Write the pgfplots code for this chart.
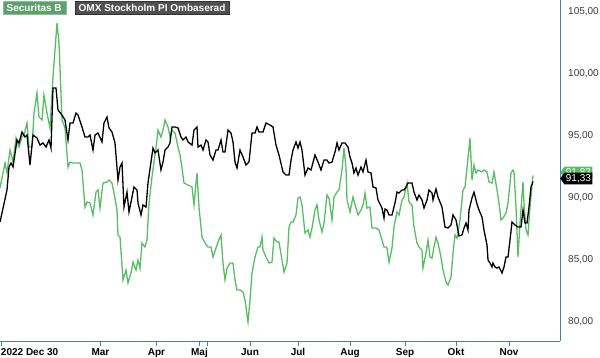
\documentclass[border=0pt]{standalone}
\usepackage{fontspec}
\setmainfont{Liberation Sans}
\usepackage{pgfplots}
\pgfplotsset{compat=1.18}
\usetikzlibrary{shapes.symbols,calc}
\definecolor{secgreen}{RGB}{88,190,102}
\definecolor{leggreen}{RGB}{92,160,108}
\definecolor{leggray}{RGB}{80,80,80}
\definecolor{axiscol}{RGB}{74,126,170}
\definecolor{ticklab}{RGB}{60,60,60}
\begin{document}
\begin{tikzpicture}
\begin{axis}[
  name=ax,
  scale only axis, width=560pt, height=341pt,
  xmin=0, xmax=336, ymin=78.47, ymax=105.97,
  clip=false,
  axis x line*=bottom, axis y line*=right,
  axis line style={draw=axiscol, line width=0.9pt},
  xtick={0.6,60.3,93.9,119.7,150,178.8,210,243,273.6,305.4},
  xticklabels={\makebox[0pt][l]{2022 Dec 30},Mar,Apr,Maj,Jun,Jul,Aug,Sep,Okt,Nov},
  xticklabel style={font=\bfseries\fontsize{10}{12}\selectfont, text=black, yshift=1pt},
  x tick style={draw=axiscol, line width=0.9pt},
  tick align=outside, major tick length=5pt,
  extra x ticks={124.2}, extra x tick labels={},
  extra x tick style={tick style={draw=red!80, line width=0.9pt}},
  ytick={80,85,90,95,100,105},
  yticklabels={{80,00},{85,00},{90,00},{95,00},{100,00},{105,00}},
  yticklabel style={font=\fontsize{10}{12}\selectfont, text=ticklab, anchor=west, inner xsep=0pt, xshift=3pt},
  y tick style={draw=none},
]
\addplot[secgreen, line width=1.3pt] coordinates {
(0,90.81)(1.8,92.02)(3,92.82)(4.2,92.02)(6,93.87)(7.8,92.90)(9.6,94.84)(11.4,94.11)(13.2,94.92)(14.4,95.08)
(16.2,96.05)(17.4,94.11)(19.2,94.11)(20.4,96.85)(22.2,98.47)(23.4,96.53)(25.2,96.29)(26.4,98.31)(28.2,96.85)(30,95.65)
(31.8,99.76)(34.2,104.11)(35.4,102.50)(37.2,96.29)(39,95.65)(40.8,92.50)(42,92.90)(43.8,92.82)(46.2,92.82)(48,92.82)
(49.2,92.26)(51,89.27)(52.2,89.68)(54,89.60)(55.8,88.63)(57.6,90.48)(58.8,90.65)(60,89.19)(61.8,91.21)(64.2,91.29)
(65.4,91.45)(67.2,91.21)(68.4,90.40)(70.2,89.03)(70.8,87.02)(72,86.85)(73.8,83.39)(75.6,84.19)(76.8,83.15)(78.6,83.95)
(79.8,84.84)(81.6,84.19)(82.8,85.00)(84,84.35)(85.2,86.37)(87,86.05)(88.2,86.61)(89.4,89.60)(91.2,91.69)(92.4,92.90)
(94.2,94.68)(94.8,95.48)(96.6,94.92)(97.8,95.48)(99,96.29)(100.8,95.73)(102,94.92)(103.2,95.48)(105,95.24)(106.8,94.11)
(108,93.47)(109.2,92.42)(110.4,91.21)(112.8,91.05)(115.2,90.89)(116.4,89.44)(118.2,92.02)(119.4,89.27)(121.2,86.85)(123,86.37)
(124.8,86.05)(126.6,86.05)(127.8,85.24)(129.6,85.97)(130.8,86.45)(132.6,87.02)(133.8,84.76)(135,83.39)(136.2,84.35)(138,84.76)
(139.8,84.76)(141,83.39)(142.2,82.58)(144,82.58)(145.8,82.42)(147,81.77)(148.8,80.00)(150,81.77)(151.2,83.95)(153,85.24)
(154.8,86.05)(156,86.05)(157.2,86.85)(157.8,85.81)(159.6,85.24)(161.4,84.76)(163.2,84.84)(164.4,86.77)(166.2,86.45)(167.4,86.45)
(169.2,85.00)(170.4,84.03)(172.2,84.76)(173.4,87.66)(174.6,88.06)(175.8,88.06)(177.6,88.63)(178.8,90.00)(180,90.08)(181.2,89.44)
(183,87.18)(184.8,87.42)(186,86.85)(187.2,87.58)(189,89.03)(190.2,89.44)(191.4,88.23)(193.2,87.26)(194.4,87.98)(196.2,90.24)
(197.4,90.00)(199.2,88.23)(200.4,90.08)(202.2,90.48)(203.4,90.65)(205.2,92.26)(206.4,94.03)(207.6,92.50)(208.2,89.84)(210,88.87)
(211.8,90.08)(213.6,89.19)(214.8,88.63)(216.6,89.03)(217.8,89.44)(219,90.40)(220.2,89.19)(222,89.27)(223.2,87.58)(225.6,87.58)
(227.4,87.42)(229.2,86.61)(230.4,86.05)(231.6,86.05)(232.2,85.97)(233.4,84.84)(235.2,85.97)(236.4,87.66)(238.2,88.87)(239.4,88.63)
(241.2,89.84)(242.4,90.08)(244.2,91.21)(245.4,89.68)(247.2,89.44)(248.4,87.66)(250.2,86.37)(251.4,86.05)(253.2,85.81)(253.8,84.35)
(255.6,85.56)(256.8,86.61)(258,85.24)(259.2,85.16)(260.4,86.05)(261.6,86.85)(262.8,86.37)(264.6,85.24)(265.8,84.19)(267.6,83.23)
(268.8,82.98)(270.6,83.63)(271.8,85.56)(273,87.02)(274.2,86.77)(276,88.23)(277.8,90.65)(279,90.89)(280.2,92.42)(282,94.84)
(283.2,91.45)(284.4,92.66)(285.6,92.02)(286.8,92.26)(289.2,92.10)(290.4,92.26)(292.2,92.10)(293.4,91.29)(295.2,91.21)(296.4,92.10)
(298.2,90.65)(299.4,89.60)(300.6,88.23)(301.8,88.39)(303.6,88.79)(304.8,89.60)(306.6,92.02)(307.8,92.26)(308.4,92.10)(309.6,89.27)
(310.8,85.24)(312,87.98)(313.8,91.29)(314.4,89.60)(315.6,87.42)(316.8,87.02)(318,89.27)(319.8,91.83)
};
\addplot[black, line width=1.3pt] coordinates {
(0,88.06)(4.2,90.65)(5.4,92.50)(6.6,92.82)(7.8,92.50)(10.2,94.68)(11.4,94.44)(13.2,95.32)(15,94.92)(16.2,95.08)
(18,92.66)(19.8,95.08)(22.2,94.84)(24,94.27)(25.8,94.44)(27.6,94.11)(29.4,94.68)(30.6,94.03)(31.8,98.87)(33.6,98.87)
(34.8,97.10)(37.2,96.69)(39,96.29)(40.8,94.68)(42,96.05)(43.8,96.05)(45.6,96.85)(46.8,96.69)(49.2,95.73)(51,94.92)
(52.8,94.92)(54,95.08)(55.8,93.87)(57,95.08)(58.8,95.24)(61.2,94.52)(62.4,96.05)(64.2,96.53)(65.4,95.65)(67.2,95.32)
(69,94.44)(70.8,91.45)(72,92.50)(73.2,92.82)(74.4,89.27)(76.2,90.48)(77.4,88.87)(79.2,90.08)(80.4,90.89)(82.2,90.65)
(82.8,89.60)(84.6,88.63)(85.8,89.44)(87.6,89.27)(88.8,91.21)(90.6,92.90)(91.8,94.03)(93,93.63)(94.8,93.87)(96.6,92.26)
(97.8,92.90)(99,93.87)(100.8,94.11)(102,94.44)(103.2,95.73)(105,95.73)(106.8,95.65)(108.6,94.92)(109.8,94.68)(111.6,94.92)
(112.8,94.52)(115.2,94.27)(116.4,95.48)(118.2,95.73)(118.8,94.11)(120.6,94.27)(121.8,93.87)(123.6,94.68)(124.8,94.52)(126,93.47)
(127.8,93.06)(129.6,93.87)(130.8,93.87)(132.6,94.68)(133.8,93.71)(135,93.71)(136.8,95.48)(138.6,95.24)(139.8,94.52)(141,92.90)
(142.2,92.42)(144,93.87)(145.8,93.31)(147.6,92.66)(149.4,92.90)(151.2,95.24)(153,95.24)(154.2,95.73)(155.4,95.32)(157.8,95.32)
(159.6,96.05)(162,95.89)(163.8,95.73)(165.6,94.27)(167.4,93.47)(169.8,92.10)(171.6,91.85)(173.4,91.85)(174.6,93.06)(175.8,93.87)
(177.6,94.52)(178.8,94.03)(180,94.52)(181.2,93.87)(183,91.85)(184.8,92.42)(186.6,92.26)(189,93.47)(190.8,92.90)(192.6,92.26)
(194.4,93.06)(196.2,93.06)(197.4,92.82)(199.2,92.90)(201,93.71)(202.2,94.44)(203.4,93.87)(205.2,94.44)(207,94.44)(208.8,94.11)
(210,93.31)(211.2,92.82)(212.4,92.02)(213.6,92.42)(214.8,91.85)(216.6,92.50)(217.8,92.10)(219.6,93.06)(220.8,92.10)(222.6,92.02)
(223.8,90.89)(225.6,90.81)(226.8,89.84)(229.2,89.19)(230.4,88.39)(231,89.11)(232.2,89.03)(233.4,88.63)(235.2,88.63)(237,89.60)
(238.2,90.48)(239.4,90.40)(241.2,90.65)(242.4,90.65)(243.6,90.89)(244.8,91.21)(247.2,91.21)(248.4,90.48)(250.2,89.84)(251.4,90.24)
(253.2,89.84)(254.4,89.19)(256.2,89.84)(257.4,90.65)(259.2,90.40)(259.8,89.84)(261.6,90.73)(262.8,90.08)(265.2,89.27)(267,87.66)
(268.8,87.58)(270.6,87.82)(271.8,88.63)(273.6,88.23)(275.4,86.94)(277.2,87.02)(278.4,87.58)(279.6,87.98)(280.8,87.42)(281.4,89.03)
(283.2,90.00)(284.4,90.48)(286.2,89.52)(287.4,89.03)(289.2,88.47)(290.4,87.42)(292.2,86.21)(292.8,85.00)(294,84.76)(295.2,84.44)
(295.8,84.76)(297,84.44)(298.2,84.35)(299.4,84.44)(301.2,83.95)(302.4,84.44)(303.6,85.24)(304.8,85.24)(306,86.61)(307.2,88.06)
(309,87.82)(310.8,87.66)(312.6,87.66)(313.8,89.03)(315,87.98)(316.2,87.98)(317.4,89.27)(318.6,90.89)(319.8,91.33)
};
\node[signal, signal to=west, signal pointer angle=110, fill=secgreen, text=white,
      font=\fontsize{10}{10}\selectfont, inner xsep=1.5pt, inner ysep=1.8pt, anchor=west]
      at (axis cs:336,92.06) {91,83};
\node[signal, signal to=west, signal pointer angle=110, fill=black, text=white,
      font=\fontsize{10}{10}\selectfont, inner xsep=1.5pt, inner ysep=1.8pt, anchor=west]
      at (axis cs:336,91.57) {91,33};
\end{axis}
\node[fill=leggreen, draw=leggreen!70!white, text=white, font=\bfseries\fontsize{10}{10}\selectfont,
      anchor=north west, inner xsep=4pt, inner ysep=2.5pt] at ($(ax.north west)+(2.5pt,-1.5pt)$) {Securitas B};
\node[fill=leggray, draw=black!80, text=white, font=\bfseries\fontsize{10}{10}\selectfont,
      anchor=north west, inner xsep=4pt, inner ysep=2.5pt] at ($(ax.north west)+(74.5pt,-1.5pt)$) {OMX Stockholm PI Ombaserad};
\pgfresetboundingbox
\useasboundingbox ($(ax.south west)+(0pt,-17pt)$) rectangle ($(ax.north east)+(40pt,0pt)$);
\end{tikzpicture}
\end{document}
